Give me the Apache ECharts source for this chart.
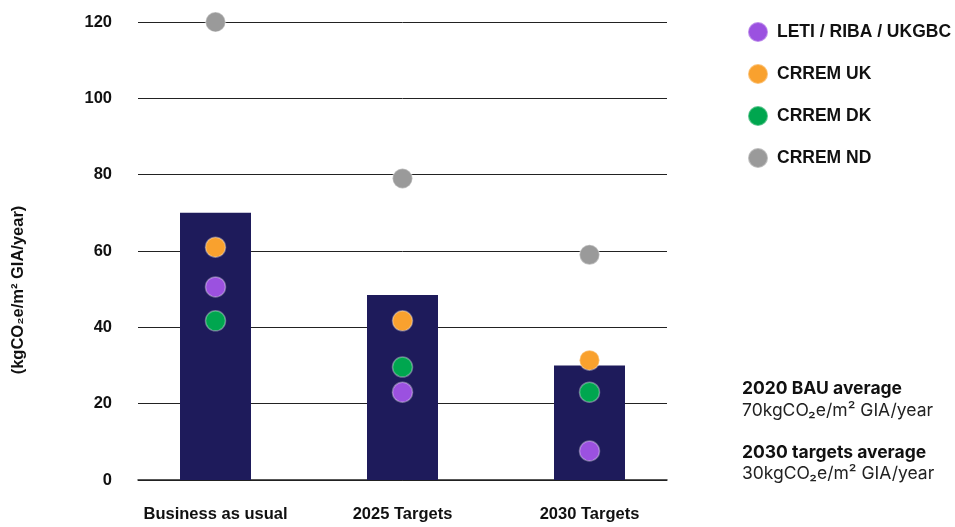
<!DOCTYPE html>
<html>
<head>
<meta charset="utf-8">
<script src="https://cdn.jsdelivr.net/npm/echarts@6/dist/echarts.min.js"></script>
<style>
  html, body { margin: 0; padding: 0; background: #fff; }
  #chart { width: 955px; height: 527px; }
</style>
</head>
<body>
<div id="chart"></div>
<script>
const categories = ['Business as usual', '2025 Targets', '2030 Targets'];
const averages = [70, 48.5, 30];
const leti = [50.6, 23, 7.6];
const crremUK = [61, 41.7, 31.4];
const crremDK = [41.7, 29.6, 23];
const crremND = [120, 79, 59];

const font = '"Liberation Sans", Arial, sans-serif';

const chart = echarts.init(document.getElementById('chart'));

const dotSeries = (name, data, color) => ({
  name,
  type: 'scatter',
  xAxisIndex: 1,
  yAxisIndex: 1,
  data,
  symbolSize: 20,
  itemStyle: { color, opacity: 1, borderColor: 'rgba(255,255,255,0.35)', borderWidth: 1.5 },
  z: 5
});

chart.setOption({
  animation: false,
  legend: {
    orient: 'vertical',
    left: 742,
    top: 16,
    itemWidth: 20,
    itemHeight: 20,
    itemGap: 20,
    icon: 'circle',
    data: ['LETI / RIBA / UKGBC', 'CRREM UK', 'CRREM DK', 'CRREM ND'],
    itemStyle: { opacity: 1 },
    textStyle: { fontFamily: font, fontWeight: 'bold', fontSize: 17.5, color: '#111', padding: [0, 0, 0, 4] }
  },
  grid: [
    { left: 138, right: 288, top: 22, bottom: 47 },
    { left: 122, right: 272, top: 22, bottom: 47 }
  ],
  xAxis: [
    {
      gridIndex: 0, type: 'value', min: 0, max: 1,
      axisLine: { show: true, lineStyle: { color: '#222', width: 1.5 } },
      axisTick: { show: false }, axisLabel: { show: false }, splitLine: { show: false }
    },
    {
      gridIndex: 1, type: 'category', data: categories,
      axisLine: { show: false }, axisTick: { show: false },
      axisLabel: { interval: 0, margin: 26, fontFamily: font, fontWeight: 'bold', fontSize: 16.5, color: '#111' }
    }
  ],
  yAxis: [
    {
      gridIndex: 0, type: 'value', min: 0, max: 120, interval: 20,
      axisLine: { show: false }, axisTick: { show: false },
      axisLabel: { margin: 26, fontFamily: font, fontWeight: 'bold', fontSize: 16.5, color: '#111' },
      splitLine: { lineStyle: { color: '#222', width: 1 } }
    },
    {
      gridIndex: 1, type: 'value', min: 0, max: 120, interval: 20,
      show: false, splitLine: { show: false }
    }
  ],
  series: [
    {
      name: 'Average',
      type: 'bar',
      xAxisIndex: 1,
      yAxisIndex: 1,
      data: averages,
      barWidth: 71,
      itemStyle: { color: '#1e1b5b' },
      z: 2
    },
    dotSeries('LETI / RIBA / UKGBC', leti, '#9b51e0'),
    dotSeries('CRREM UK', crremUK, '#f9a12e'),
    dotSeries('CRREM DK', crremDK, '#00a64f'),
    dotSeries('CRREM ND', crremND, '#9a9a9a')
  ],
  graphic: [
    {
      type: 'text', x: 18, y: 290, rotation: Math.PI / 2,
      style: { text: '(kgCO\u2082e/m\u00b2 GIA/year)', fontFamily: font, fontWeight: 'bold', fontSize: 16.5, fill: '#111', align: 'center', verticalAlign: 'middle' }
    },
    { type: 'text', left: 742, top: 380, style: { text: '2020 BAU average', fontFamily: 'Inter', fontWeight: 'bold', fontSize: 17.5, fill: '#111' } },
    { type: 'text', left: 742, top: 402, style: { text: '70kgCO\u2082e/m\u00b2 GIA/year', fontFamily: 'Inter', fontSize: 17.5, fill: '#222' } },
    { type: 'text', left: 742, top: 444, style: { text: '2030 targets average', fontFamily: 'Inter', fontWeight: 'bold', fontSize: 17.5, fill: '#111' } },
    { type: 'text', left: 742, top: 465, style: { text: '30kgCO\u2082e/m\u00b2 GIA/year', fontFamily: 'Inter', fontSize: 17.5, fill: '#222' } }
  ]
});
</script>
</body>
</html>
